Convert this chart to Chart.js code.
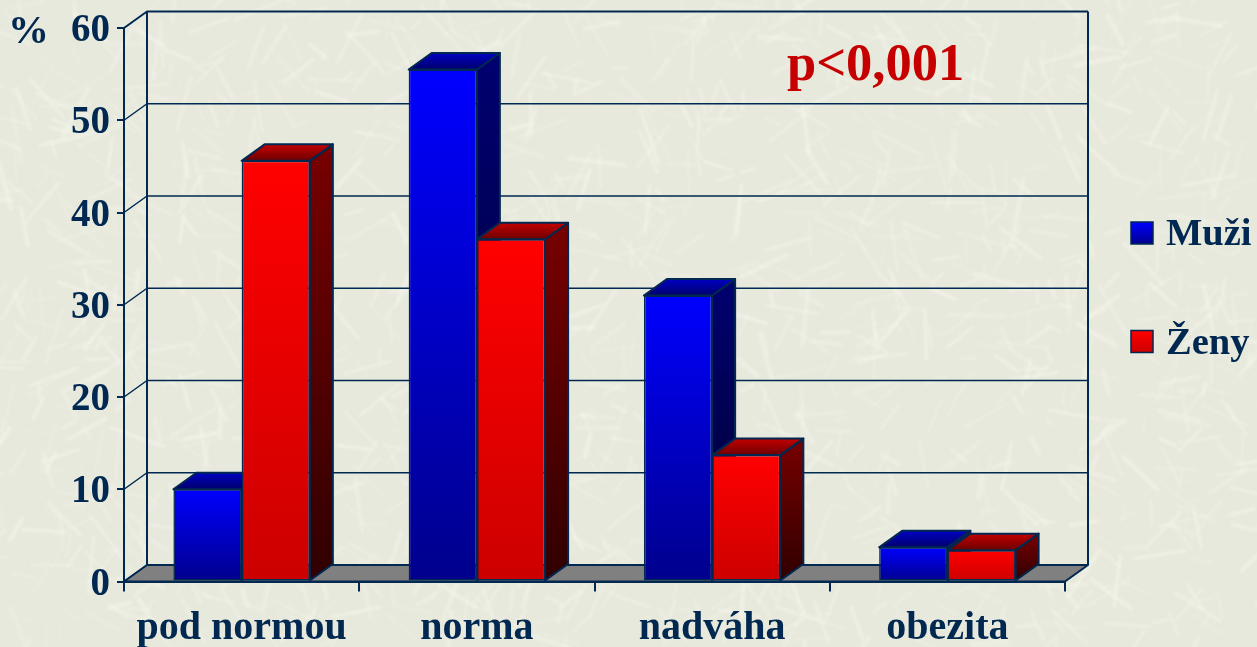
<!DOCTYPE html>
<html>
<head>
<meta charset="utf-8">
<title>BMI</title>
<script src="https://cdn.jsdelivr.net/npm/chart.js@4/dist/chart.umd.min.js"></script>
<style>
html, body { margin: 0; padding: 0; overflow: hidden; background: #e9eadf; }
canvas { display: block; }
</style>
</head>
<body>
<canvas id="bmiChart" width="1257" height="647"></canvas>
<script>
const categories = ['pod normou', 'norma', 'nadváha', 'obezita'];
const muzi = [10, 55.5, 31, 3.7];
const zeny = [45.6, 37.1, 13.7, 3.4];
const seriesNames = ['Muži', 'Ženy'];
const yTicks = [0, 10, 20, 30, 40, 50, 60];

const NAVY = '#002850';
const FONT = '"Liberation Serif", "Times New Roman", serif';
// how far the back wall is shifted from the front plane
const DX = 23;
const DY = -16.5;

const palette = [
    { front: ['#0000ff', '#00008c'], top: ['#0000c4', '#00006c'], side: ['#000070', '#000030'] },
    { front: ['#ff0000', '#cc0000'], top: ['#c40000', '#6c0000'], side: ['#780000', '#300000'] }
];

function frontGradient(index) {
    return function (ctx) {
        const chart = ctx.chart;
        const y = chart.scales.y;
        if (!y || ctx.raw === undefined) return palette[index].front[0];
        const y0 = y.getPixelForValue(ctx.raw);
        const y1 = y.getPixelForValue(0);
        // scales are not laid out yet on the first resolve
        if (!Number.isFinite(y0) || !Number.isFinite(y1)) return palette[index].front[0];
        const g = chart.ctx.createLinearGradient(0, y0, 0, y1);
        g.addColorStop(0, palette[index].front[0]);
        g.addColorStop(1, palette[index].front[1]);
        return g;
    };
}

// straw texture behind everything
const texturePlugin = {
    id: 'texture',
    beforeDraw(chart) {
        const c = chart.ctx;
        c.save();
        c.fillStyle = '#e8e9dd';
        c.fillRect(0, 0, chart.width, chart.height);
        c.filter = 'blur(1.5px)';
        c.lineCap = 'round';
        let s = 12345;
        const next = () => {
            s = (s * 1103515245 + 12345) % 2147483648;
            return s / 2147483648;
        };
        for (let i = 0; i < 1500; i++) {
            const x = next() * chart.width;
            const y = next() * chart.height;
            const a = next() * Math.PI * 2;
            const len = 12 + next() * 45;
            c.strokeStyle = 'rgba(246,247,237,' + (0.2 + next() * 0.4) + ')';
            c.lineWidth = 1.5 + next() * 2.5;
            c.beginPath();
            c.moveTo(x, y);
            c.lineTo(x + Math.cos(a) * len, y + Math.sin(a) * len);
            c.stroke();
        }
        c.restore();
    }
};

// back walls, floor and the sides/tops of the bars
const box3dPlugin = {
    id: 'box3d',
    beforeDatasetsDraw(chart) {
        const c = chart.ctx;
        const a = chart.chartArea;
        const y = chart.scales.y;
        c.save();
        c.strokeStyle = NAVY;
        c.lineJoin = 'round';

        yTicks.forEach(t => {
            const py = y.getPixelForValue(t);
            c.lineWidth = t === 60 ? 2 : 1.5;
            c.beginPath();
            c.moveTo(a.left, py);
            c.lineTo(a.left + DX, py + DY);
            if (t !== 0) c.lineTo(a.right + DX, py + DY);
            c.stroke();
        });

        c.lineWidth = 2;
        c.beginPath();
        c.moveTo(a.left + DX, a.top + DY);
        c.lineTo(a.left + DX, a.bottom + DY);
        c.moveTo(a.right + DX, a.top + DY);
        c.lineTo(a.right + DX, a.bottom + DY);
        c.stroke();

        c.fillStyle = '#808080';
        c.beginPath();
        c.moveTo(a.left, a.bottom);
        c.lineTo(a.left + DX, a.bottom + DY);
        c.lineTo(a.right + DX, a.bottom + DY);
        c.lineTo(a.right, a.bottom);
        c.closePath();
        c.fill();
        c.stroke();

        chart.data.datasets.forEach((ds, di) => {
            chart.getDatasetMeta(di).data.forEach(bar => {
                const p = bar.getProps(['x', 'y', 'base', 'width'], true);
                const l = p.x - p.width / 2;
                const r = p.x + p.width / 2;

                const side = c.createLinearGradient(0, p.y + DY, 0, p.base);
                side.addColorStop(0, palette[di].side[0]);
                side.addColorStop(1, palette[di].side[1]);
                c.fillStyle = side;
                c.beginPath();
                c.moveTo(r, p.y);
                c.lineTo(r + DX, p.y + DY);
                c.lineTo(r + DX, p.base + DY);
                c.lineTo(r, p.base);
                c.closePath();
                c.fill();
                c.stroke();

                const top = c.createLinearGradient(0, p.y + DY, 0, p.y);
                top.addColorStop(0, palette[di].top[0]);
                top.addColorStop(1, palette[di].top[1]);
                c.fillStyle = top;
                c.beginPath();
                c.moveTo(l, p.y);
                c.lineTo(l + DX, p.y + DY);
                c.lineTo(r + DX, p.y + DY);
                c.lineTo(r, p.y);
                c.closePath();
                c.fill();
                c.stroke();
            });
        });
        c.restore();
    }
};

// %, p value and the legend on the right
const textPlugin = {
    id: 'extraText',
    afterDraw(chart) {
        const c = chart.ctx;
        c.save();
        c.textBaseline = 'alphabetic';
        c.textAlign = 'left';
        c.fillStyle = NAVY;
        c.font = 'bold 41px ' + FONT;
        c.fillText('%', 8, 43);

        seriesNames.forEach((name, i) => {
            const top = 222 + i * 108.5;
            const g = c.createLinearGradient(0, top, 0, top + 22);
            g.addColorStop(0, palette[i].front[0]);
            g.addColorStop(1, palette[i].front[1]);
            c.fillStyle = g;
            c.fillRect(1131, top, 22, 22);
            c.strokeStyle = NAVY;
            c.lineWidth = 1.5;
            c.strokeRect(1131, top, 22, 22);
            c.fillStyle = NAVY;
            c.font = 'bold 38.5px ' + FONT;
            c.fillText(name, 1166, top + 23);
        });

        c.fillStyle = '#c60000';
        c.font = 'bold 52.5px ' + FONT;
        c.fillText('p<0,001', 787, 80);
        c.restore();
    }
};

new Chart(document.getElementById('bmiChart').getContext('2d'), {
    type: 'bar',
    data: {
        labels: categories,
        datasets: [
            { label: seriesNames[0], data: muzi, backgroundColor: frontGradient(0) },
            { label: seriesNames[1], data: zeny, backgroundColor: frontGradient(1) }
        ]
    },
    options: {
        responsive: false,
        animation: false,
        events: [],
        layout: { padding: { top: 28, right: 192, left: 0, bottom: 0 } },
        datasets: {
            bar: {
                categoryPercentage: 0.58,
                barPercentage: 1,
                borderColor: NAVY,
                borderWidth: 1.5,
                borderSkipped: false
            }
        },
        plugins: {
            legend: { display: false },
            tooltip: { enabled: false }
        },
        scales: {
            x: {
                afterFit(scale) { scale.height = 65.5; },
                grid: { drawOnChartArea: false, color: NAVY, lineWidth: 2, tickLength: 10, tickColor: NAVY },
                border: { color: NAVY, width: 2 },
                ticks: {
                    color: NAVY,
                    padding: 13,
                    maxRotation: 0,
                    font: { family: FONT, size: 40, weight: 'bold' }
                }
            },
            y: {
                min: 0,
                max: 60,
                afterFit(scale) {
                    scale.width = 124;
                    // keep the tick labels from pushing the plot down
                    scale.paddingTop = 0;
                    scale.paddingBottom = 0;
                },
                grid: { drawOnChartArea: false, color: NAVY, lineWidth: 2, tickLength: 7, tickColor: NAVY },
                border: { color: NAVY, width: 2 },
                ticks: {
                    color: NAVY,
                    padding: 7,
                    stepSize: 10,
                    labelOffset: 3,
                    font: { family: FONT, size: 39, weight: 'bold' }
                }
            }
        }
    },
    plugins: [texturePlugin, box3dPlugin, textPlugin]
});
</script>
</body>
</html>
